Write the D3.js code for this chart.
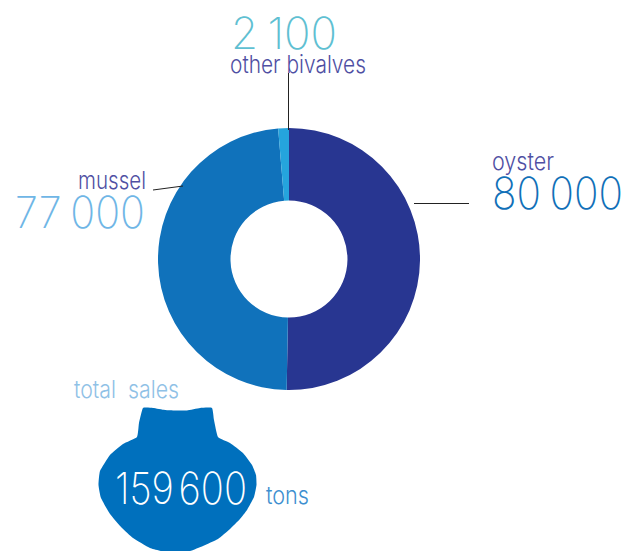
<!DOCTYPE html>
<html>
<head>
<meta charset="utf-8">
<script src="https://cdn.jsdelivr.net/npm/d3@7"></script>
<style>
  html, body { margin: 0; padding: 0; background: #fff; }
  svg { display: block; }
  text { font-family: "Inter", "Open Sans", sans-serif; font-weight: 300; }
  .big { font-weight: 200; word-spacing: -3px; }
  .total { font-weight: 200; word-spacing: -7px; }
</style>
</head>
<body>
<div id="viz"></div>
<script>
var width = 627, height = 551;

var species = ["oyster", "mussel", "other bivalves"];
var tons = [80000, 77000, 2100];
var tonLabels = ["80 000", "77 000", "2 100"];
var sliceColors = ["#283691", "#1072bb", "#25a4dd"];
var totalLabel = "159 600";

var svg = d3.select("#viz").append("svg").attr("width", width).attr("height", height);

var table = species.map(function(s, i) { return { name: s, value: tons[i], color: sliceColors[i] }; });

var pie = d3.pie().sort(null).value(function(d) { return d.value; });
var arc = d3.arc().innerRadius(58.5).outerRadius(131);

var ring = svg.append("g").attr("transform", "translate(289,259)");

// leader lines go under the ring
function leader(x1, y1, x2, y2) {
  svg.append("line")
      .attr("x1", x1).attr("y1", y1).attr("x2", x2).attr("y2", y2)
      .attr("stroke", "#222").attr("stroke-width", 1);
}
leader(414, 203.5, 469, 203.5);
leader(288.5, 73, 288.5, 130);
leader(153, 190, 183, 186);

ring.selectAll("path")
  .data(pie(table))
  .enter().append("path")
    .attr("d", arc)
    .attr("fill", function(d) { return d.data.color; });

function label(txt, x, y, size, color, len, cls) {
  return svg.append("text")
      .attr("class", cls || null)
      .attr("x", x).attr("y", y)
      .attr("font-size", size)
      .attr("fill", color)
      .attr("textLength", len)
      .attr("lengthAdjust", "spacingAndGlyphs")
      .text(txt);
}

label(tonLabels[2], 231, 49, 44, "#5fc0d2", 106, "big");
label(species[2], 230, 73, 24, "#4f4fa3", 136);
label(species[0], 492, 170, 24, "#4f4fa3", 62);
label(tonLabels[0], 492, 209, 44, "#1170b8", 131, "big");
label(species[1], 78, 189, 24, "#4f4fa3", 68);
label(tonLabels[1], 15, 228, 44, "#6fb6e6", 130, "big");
label("total  sales", 74, 398, 24, "#8fc1e6", 105).style("white-space", "pre");
label("tons", 266, 504, 24, "#3d8fd0", 43);

// shell outline behind the total
var shell = [[143,408],[153,408],[165,410],[175,410.5],[187,410.5],[200,408],[212,408],[214,420],[218,437],
  [230,443],[243,453],[252,465],[256,475],[256.5,485],[254,497],[247,510],[240,519],[230,529],[218,539],
  [203,546],[190,551],[170,553],[150,548],[133,538],[122,528],[110,514],[101,498],[98.5,485],[100,471],
  [110,455],[123,444],[137,437],[139,423]];
svg.append("path")
    .attr("d", d3.line().curve(d3.curveCardinalClosed.tension(0.6))(shell))
    .attr("fill", "#0070bd");

label(totalLabel, 115, 504, 44, "#ffffff", 132, "total");
</script>
</body>
</html>
